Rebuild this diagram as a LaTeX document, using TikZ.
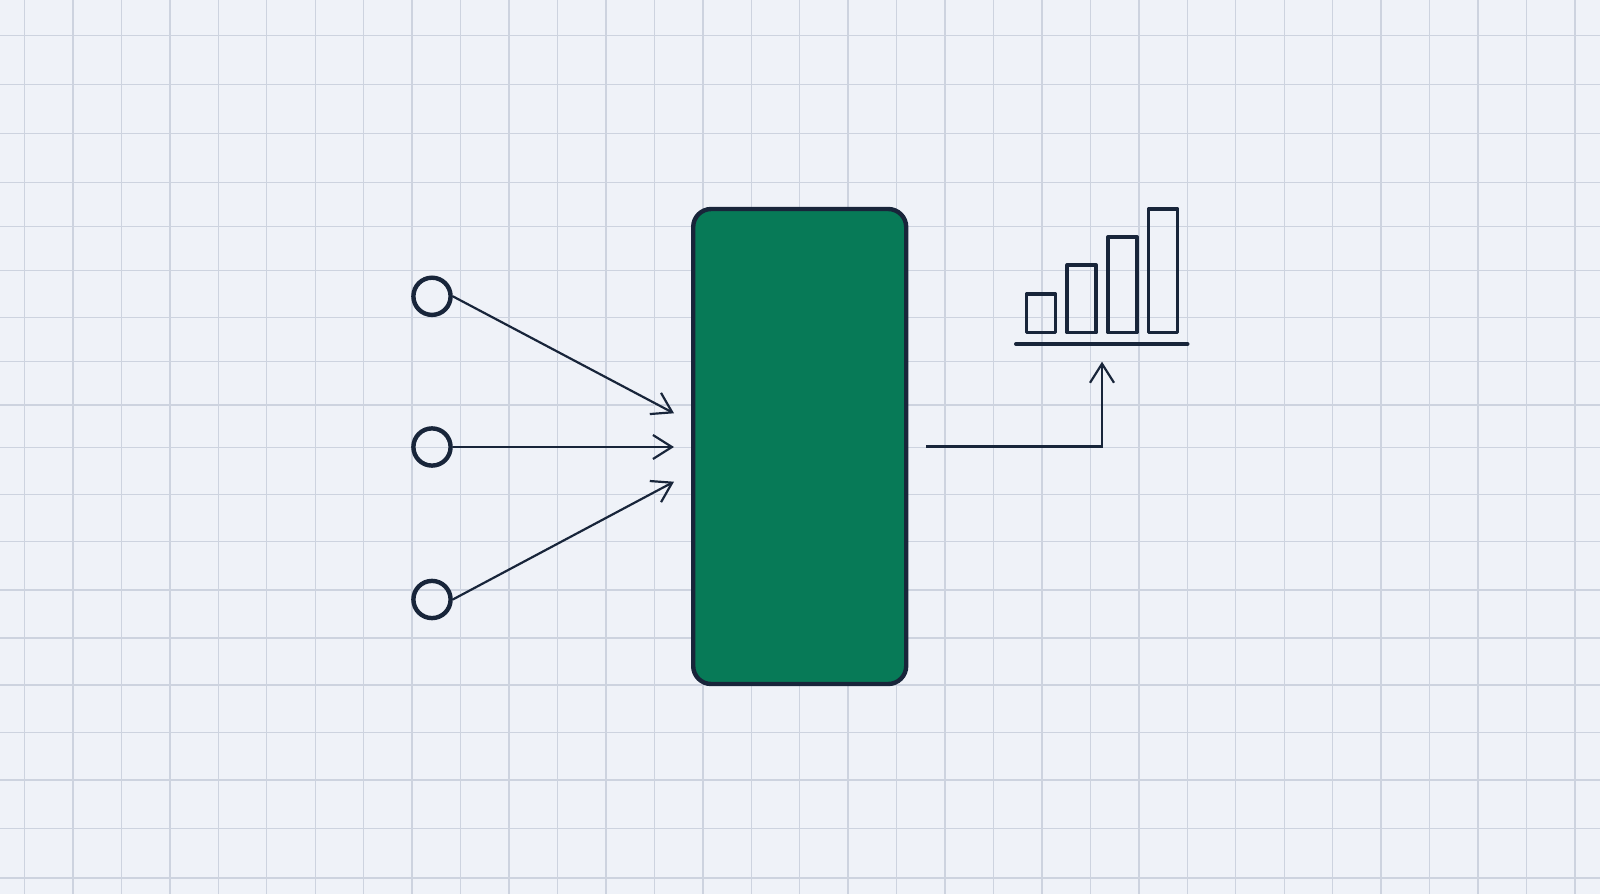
\documentclass[tikz,border=0pt]{standalone}
\usepackage{xcolor}
\usepackage{tikz}
\usetikzlibrary{positioning,calc,arrows.meta}

\definecolor{paper}{HTML}{EFF2F8}
\definecolor{gridline}{HTML}{CDD3DF}
\definecolor{ink}{HTML}{18253A}
\definecolor{modelgreen}{HTML}{077A57}

\begin{document}
\begin{tikzpicture}[x=0.5pt, y=-0.5pt,
		inputnode/.style={circle, draw=ink, line width=2.2pt, minimum size=18.6pt, inner sep=0},
		flow/.style={draw=ink, line width=1.1pt, -{Straight Barb[length=9.5pt, width=12pt]}},
		bar/.style={draw=ink, line width=1.8pt, line join=round}]
	\fill[paper] (0,0) rectangle (1600,894);
	\useasboundingbox (0,0) rectangle (1600,894);
	\foreach \x in {0,...,32}
		\draw[gridline, line width=0.7pt] ({24.5+48.45*\x},0) -- ({24.5+48.45*\x},894);
	\foreach \y in {35.3,84.4,133.4,182.4,226.5,270.4,317.6,361.5,404.8,447.3,494.3,541.6,590.1,637.8,685,732.6,780,828.4,878}
		\draw[gridline, line width=0.7pt] (0,\y) -- (1600,\y);

	\node[draw=ink, fill=modelgreen, line width=2.2pt, rounded corners=9pt, minimum width=106.5pt, minimum height=237.5pt, inner sep=0] (model) at (799.7,446.5) {};

	\node[inputnode] (in1) at (432,296.3) {};
	\node[inputnode] (in2) at (432,447) {};
	\node[inputnode] (in3) at (432,599.5) {};
	\coordinate (tip1) at (674,413.3);
	\coordinate (tip2) at (674,447);
	\coordinate (tip3) at (674,481.7);
	\draw[flow] (in1.east) -- (tip1);
	\draw[flow] (in2.east) -- (tip2);
	\draw[flow] (in3.east) -- (tip3);

	\coordinate (out) at (1102,361.7);
	\draw[flow] ([xshift=9pt]model.east) -| (out);

	\draw[ink, line width=2pt, line cap=round] (1016,344) -- (1187.5,344);
	\foreach \i/\h in {0/294,1/265,2/237,3/209}
		\draw[bar] ({1026.5+40.7*\i},\h) rectangle ++(29,{332.5-\h});
\end{tikzpicture}
\end{document}
